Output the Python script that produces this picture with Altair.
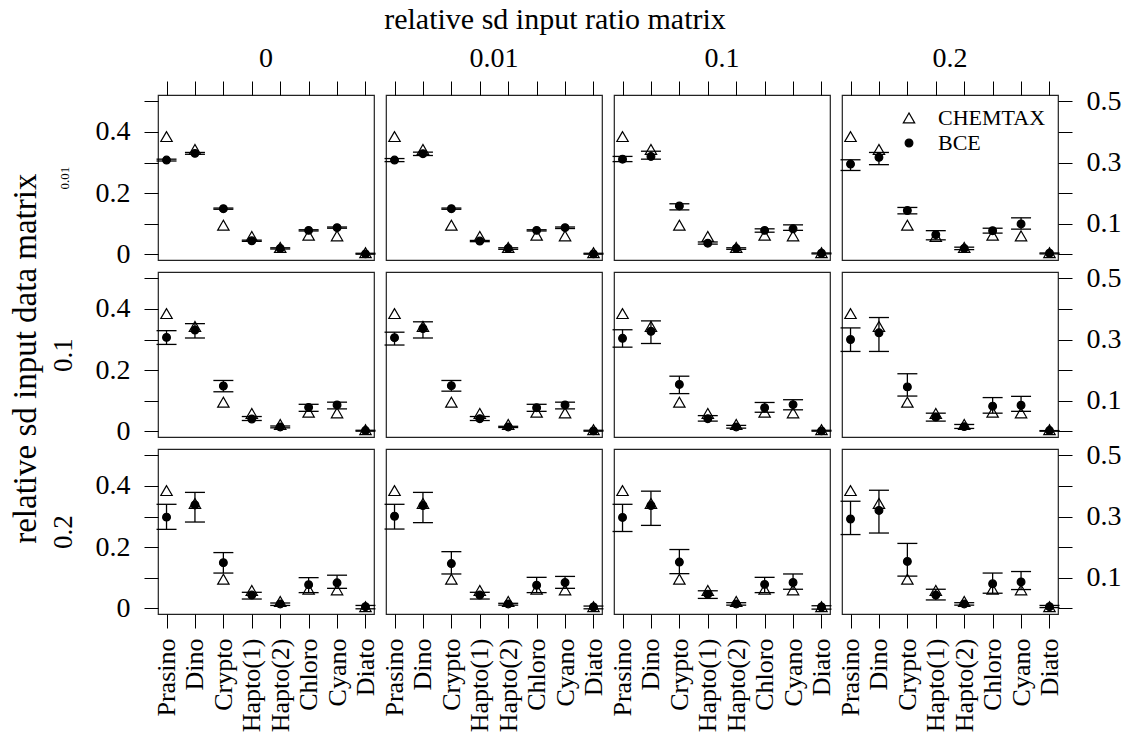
import altair as alt
import pandas as pd

FONT = "Liberation Serif"

categories = ['Prasino', 'Dino', 'Crypto', 'Hapto(1)', 'Hapto(2)', 'Chloro', 'Cyano', 'Diato']
col_labels = ['0', '0.01', '0.1', '0.2']   # relative sd input ratio matrix
row_labels = ['0.01', '0.1', '0.2']        # relative sd input data matrix

chemtax = [0.385, 0.343, 0.095, 0.058, 0.022, 0.062, 0.060, 0.005]

# BCE mean / lower / upper per panel: [row][col] -> list over categories
bce_mean_r0 = [
    [0.308, 0.330, 0.149, 0.044, 0.019, 0.078, 0.087, 0.001],
    [0.308, 0.329, 0.149, 0.043, 0.019, 0.078, 0.087, 0.001],
    [0.311, 0.320, 0.158, 0.036, 0.019, 0.078, 0.083, 0.003],
    [0.295, 0.317, 0.143, 0.064, 0.019, 0.077, 0.099, 0.003],
]
bce_lo_r0 = [
    [0.305, 0.327, 0.147, 0.042, 0.017, 0.076, 0.085, 0.000],
    [0.303, 0.323, 0.147, 0.041, 0.016, 0.076, 0.084, 0.000],
    [0.303, 0.311, 0.145, 0.033, 0.016, 0.072, 0.078, 0.001],
    [0.274, 0.293, 0.132, 0.047, 0.015, 0.069, 0.082, 0.001],
]
bce_hi_r0 = [
    [0.311, 0.333, 0.151, 0.046, 0.021, 0.080, 0.089, 0.003],
    [0.313, 0.334, 0.151, 0.045, 0.021, 0.080, 0.089, 0.003],
    [0.320, 0.337, 0.165, 0.040, 0.021, 0.083, 0.096, 0.004],
    [0.309, 0.333, 0.153, 0.077, 0.023, 0.085, 0.119, 0.004],
]

bce_mean_r1 = [
    [0.307, 0.331, 0.148, 0.040, 0.014, 0.078, 0.086, 0.002],
    [0.306, 0.336, 0.149, 0.041, 0.014, 0.077, 0.086, 0.001],
    [0.304, 0.327, 0.153, 0.041, 0.014, 0.077, 0.087, 0.001],
    [0.300, 0.322, 0.145, 0.046, 0.015, 0.082, 0.085, 0.002],
]
bce_lo_r1 = [
    [0.284, 0.305, 0.129, 0.035, 0.011, 0.065, 0.073, 0.000],
    [0.282, 0.305, 0.131, 0.035, 0.012, 0.065, 0.073, 0.000],
    [0.275, 0.287, 0.123, 0.033, 0.010, 0.062, 0.070, 0.000],
    [0.261, 0.261, 0.115, 0.033, 0.009, 0.059, 0.065, 0.000],
]
bce_hi_r1 = [
    [0.329, 0.352, 0.166, 0.048, 0.017, 0.088, 0.095, 0.003],
    [0.324, 0.358, 0.166, 0.048, 0.016, 0.088, 0.095, 0.003],
    [0.332, 0.361, 0.180, 0.051, 0.019, 0.094, 0.103, 0.003],
    [0.338, 0.372, 0.188, 0.059, 0.022, 0.110, 0.114, 0.002],
]

bce_mean_r2 = [
    [0.298, 0.338, 0.149, 0.043, 0.014, 0.077, 0.083, 0.005],
    [0.301, 0.336, 0.146, 0.043, 0.014, 0.075, 0.084, 0.004],
    [0.297, 0.336, 0.151, 0.046, 0.014, 0.078, 0.084, 0.004],
    [0.292, 0.320, 0.153, 0.043, 0.014, 0.080, 0.086, 0.005],
]
bce_lo_r2 = [
    [0.258, 0.282, 0.115, 0.030, 0.009, 0.051, 0.065, -0.002],
    [0.259, 0.280, 0.112, 0.030, 0.010, 0.051, 0.065, -0.002],
    [0.251, 0.271, 0.113, 0.032, 0.010, 0.051, 0.062, -0.003],
    [0.241, 0.246, 0.105, 0.027, 0.010, 0.049, 0.061, 0.002],
]
bce_hi_r2 = [
    [0.340, 0.379, 0.182, 0.052, 0.017, 0.100, 0.108, 0.009],
    [0.340, 0.379, 0.185, 0.052, 0.016, 0.101, 0.104, 0.007],
    [0.340, 0.383, 0.192, 0.057, 0.018, 0.101, 0.112, 0.008],
    [0.350, 0.386, 0.212, 0.062, 0.018, 0.115, 0.120, 0.009],
]

bce_mean = [bce_mean_r0, bce_mean_r1, bce_mean_r2]
bce_lo = [bce_lo_r0, bce_lo_r1, bce_lo_r2]
bce_hi = [bce_hi_r0, bce_hi_r1, bce_hi_r2]

series_names = ['CHEMTAX', 'BCE']

W, H = 216, 165
TICK = 14

yscale = alt.Scale(domain=[-0.019, 0.521], nice=False, zero=False)
xscale = alt.Scale(type='point', domain=categories, padding=0.3)

left_expr = ("round(datum.value*10) % 2 == 0 ? "
             "(datum.value == 0 ? '0' : format(datum.value, '.1f')) : ''")
right_expr = "round(datum.value*10) % 2 == 1 ? format(datum.value, '.1f') : ''"


def x_axis(r):
    if r == 0:
        return alt.Axis(orient='top', labels=False, tickSize=TICK, domain=False,
                        grid=False, title=None, tickColor='black')
    if r == 2:
        return alt.Axis(orient='bottom', labelAngle=270, labelFontSize=26,
                        labelPadding=10, tickSize=TICK, domain=False, grid=False,
                        title=None, tickColor='black', labelColor='black',
                        labelFont=FONT, labelOverlap=False)
    return None


def y_axis(r, c):
    if c == 0:
        return alt.Axis(orient='left', values=[0, 0.1, 0.2, 0.3, 0.4, 0.5],
                        labelExpr=left_expr, tickSize=TICK, labelPadding=14,
                        domain=False, grid=False, title=row_labels[r],
                        titleFontSize=(13 if r == 0 else 27),
                        titlePadding=(24 if r == 0 else 18),
                        titleFont=FONT, titleFontWeight='normal', titleColor='black',
                        labelFontSize=28, labelFont=FONT, labelColor='black',
                        tickColor='black', labelOverlap=False, labelFlush=False)
    if c == 3:
        return alt.Axis(orient='right', values=[0, 0.1, 0.2, 0.3, 0.4, 0.5],
                        labelExpr=right_expr, tickSize=TICK, labelPadding=14,
                        domain=False, grid=False, title=None,
                        labelFontSize=28, labelFont=FONT, labelColor='black',
                        tickColor='black', labelOverlap=False, labelFlush=False)
    return None


def panel(r, c):
    pts = pd.DataFrame({
        'cat': categories + categories,
        'value': chemtax + bce_mean[r][c],
        'series': ['CHEMTAX'] * len(categories) + ['BCE'] * len(categories),
    })
    bars = pd.DataFrame({'cat': categories, 'lo': bce_lo[r][c], 'hi': bce_hi[r][c]})
    caps = pd.DataFrame({'cat': categories + categories,
                         'v': bce_lo[r][c] + bce_hi[r][c]})

    xa = x_axis(r)
    ya = y_axis(r, c)
    xenc = alt.X('cat:N', scale=xscale, axis=xa)

    rule = alt.Chart(bars).mark_rule(color='black', strokeWidth=1.3).encode(
        x=xenc,
        y=alt.Y('lo:Q', scale=yscale, axis=ya),
        y2='hi:Q',
    )
    tick = alt.Chart(caps).mark_tick(color='black', size=20, thickness=1.3, opacity=1).encode(
        x=xenc,
        y=alt.Y('v:Q', scale=yscale, axis=ya),
    )
    if r == 0 and c == 3:
        leg = alt.Legend(title=None, orient='top-right', offset=12, padding=0,
                         labelFontSize=22, labelFont=FONT, labelColor='black',
                         labelOffset=18, rowPadding=3, symbolStrokeWidth=1.2)
    else:
        leg = None
    point = alt.Chart(pts).mark_point(filled=True, strokeWidth=1.2, opacity=1).encode(
        x=xenc,
        y=alt.Y('value:Q', scale=yscale, axis=ya),
        shape=alt.Shape('series:N', scale=alt.Scale(domain=series_names,
                                                    range=['triangle-up', 'circle']),
                        legend=leg),
        fill=alt.Fill('series:N', scale=alt.Scale(domain=series_names,
                                                  range=['transparent', 'black']),
                      legend=leg),
        stroke=alt.Stroke('series:N', scale=alt.Scale(domain=series_names,
                                                      range=['black', 'black']),
                          legend=leg),
        size=alt.Size('series:N', scale=alt.Scale(domain=series_names, range=[130, 60]),
                      legend=leg),
    )
    ch = alt.layer(rule, tick, point).properties(width=W, height=H)
    if r == 0:
        ch = ch.properties(title=alt.TitleParams(text=col_labels[c], fontSize=28, font=FONT,
                                                 fontWeight='normal', color='black',
                                                 offset=8, anchor='middle'))
    return ch


panels = [panel(r, c) for r in range(3) for c in range(4)]
inner = alt.concat(*panels, columns=4, spacing=12, bounds='flush').resolve_scale(
    shape='independent', fill='independent', stroke='independent', size='independent'
).resolve_legend(
    shape='independent', fill='independent', stroke='independent', size='independent'
).properties(
    title=alt.TitleParams(text='relative sd input ratio matrix', fontSize=30, font=FONT,
                          fontWeight='normal', color='black', anchor='middle',
                          offset=9, dx=-30))
chart = alt.hconcat(inner).properties(
    title=alt.TitleParams(text='relative sd input data matrix', orient='left', fontSize=33,
                          font=FONT, fontWeight='normal', color='black', anchor='middle',
                          offset=5, dx=10),
    padding={'left': 10, 'top': 4, 'right': 0, 'bottom': 0},
).configure_view(stroke='#222', strokeWidth=1.2)

chart.save("out.html", embed_options={"renderer": "svg", "actions": False})
